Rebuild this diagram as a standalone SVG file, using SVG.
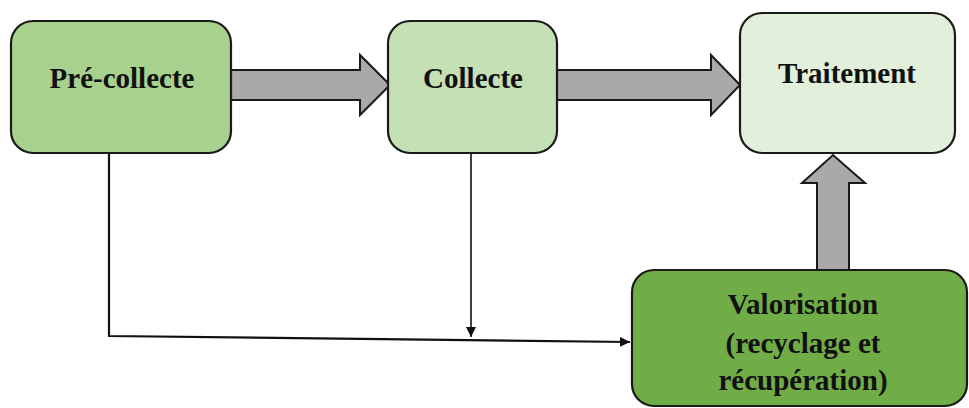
<svg xmlns="http://www.w3.org/2000/svg" width="969" height="408" viewBox="0 0 969 408">
<defs>
<style>
.box{stroke:#1a1a1a;stroke-width:2.2}
.lbl{font-family:"Liberation Serif","Times New Roman",serif;font-weight:bold;font-size:29px;fill:#111;text-anchor:middle}
.big{fill:#aba8a8;stroke:#1a1a1a;stroke-width:2;stroke-linejoin:miter}
.ln{fill:none;stroke:#111}
</style>
<marker id="ah" viewBox="0 0 10 10" refX="10" refY="5" markerWidth="10" markerHeight="10" markerUnits="userSpaceOnUse" orient="auto">
<path d="M0,0 L10,5 L0,10 Z" fill="#111"/>
</marker>
</defs>
<rect width="969" height="408" fill="#fff"/>
<g id="connectors">
<polygon class="big" points="231,70 360,70 360,55 390,85 360,115 360,100 231,100"/>
<polygon class="big" points="557,70 711,70 711,55 740,85 711,115 711,100 557,100"/>
<polygon class="big" points="817,270 817,183 802,183 833,155 865,183 849,183 849,270"/>
<path class="ln" stroke-width="2.2" d="M109,153 V336 L630,342" marker-end="url(#ah)"/>
<path class="ln" stroke-width="1.6" d="M471,153 L471,337" marker-end="url(#ah)"/>
</g>
<g id="pre-collecte">
<rect class="box" x="11" y="21" width="220" height="132" rx="22" fill="#a9d18e"/>
<text class="lbl" x="122" y="88">Pré-collecte</text>
</g>
<g id="collecte">
<rect class="box" x="388" y="21" width="169" height="132" rx="22" fill="#c5e0b4"/>
<text class="lbl" x="473" y="88">Collecte</text>
</g>
<g id="traitement">
<rect class="box" x="740" y="13" width="215" height="140" rx="22" fill="#e2efda"/>
<text class="lbl" x="847" y="83">Traitement</text>
</g>
<g id="valorisation">
<rect class="box" x="632" y="270" width="335" height="136" rx="22" fill="#70ad47"/>
<text class="lbl" x="803" y="314">Valorisation</text>
<text class="lbl" x="803" y="353">(recyclage et</text>
<text class="lbl" x="803" y="390">récupération)</text>
</g>
</svg>
